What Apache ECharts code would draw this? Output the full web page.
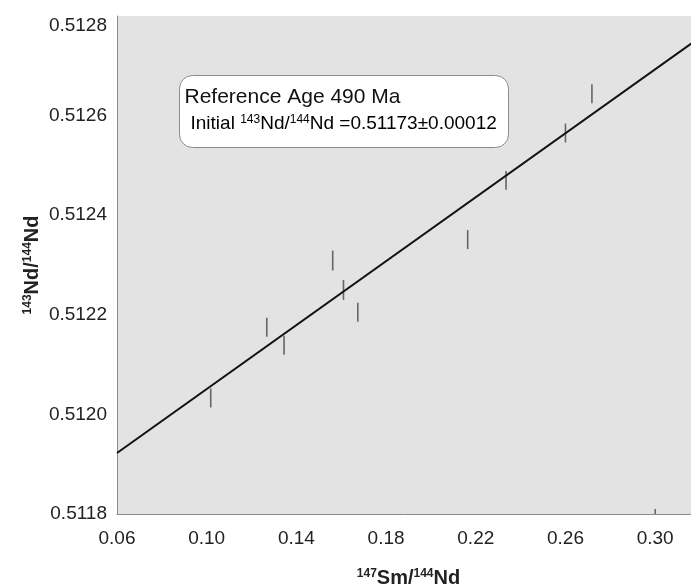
<!DOCTYPE html>
<html>
<head>
<meta charset="utf-8">
<script src="https://cdn.jsdelivr.net/npm/echarts@6/dist/echarts.min.js"></script>
<style>
  html, body { margin: 0; padding: 0; background: #ffffff; }
  #chart { width: 691px; height: 586px; }
</style>
</head>
<body>
<div id="chart"></div>
<script>
// 147Sm/144Nd ratios of the analysed samples
var smNd = [0.1018, 0.1268, 0.1345, 0.1562, 0.1610, 0.1674, 0.2164, 0.2335, 0.2600, 0.2718, 0.3000];
// measured 143Nd/144Nd ratios
var ndNd = [0.512033, 0.512175, 0.512139, 0.512309, 0.512250, 0.512205, 0.512351, 0.512470, 0.512565, 0.512644, 0.511791];
// 1-sigma analytical uncertainty on 143Nd/144Nd
var ndErr = [0.000019, 0.000019, 0.000019, 0.000020, 0.000020, 0.000019, 0.000019, 0.000019, 0.000019, 0.000019, 0.000019];

// reference isochron
var refAgeMa = 490;
var initialRatio = 0.51173;
var initialErr = 0.00012;
var lambdaSm = 6.54e-12; // 147Sm decay constant, 1/yr

var xTickLabels = ['0.06', '0.10', '0.14', '0.18', '0.22', '0.26', '0.30'];
var yTickLabels = ['0.5118', '0.5120', '0.5122', '0.5124', '0.5126', '0.5128'];

var xMin = 0.06, xMax = 0.32;
var yMin = 0.5118, yMax = 0.5128;

var slope = Math.exp(lambdaSm * refAgeMa * 1e6) - 1;
var isoLine = [xMin, xMax].map(function (x) { return [x, initialRatio + slope * x]; });

var points = smNd.map(function (x, i) { return [x, ndNd[i], ndErr[i]]; });

var font = '"Liberation Sans", Arial, sans-serif';
var supStyle = { fontSize: 12, fontWeight: 'bold', fontFamily: font, color: '#222', padding: [0, 0, 8, 0] };
var nameMain = { fontSize: 20, fontWeight: 'bold', fontFamily: font, color: '#222' };

var chart = echarts.init(document.getElementById('chart'), null, { renderer: 'canvas' });

chart.setOption({
  animation: false,
  backgroundColor: '#ffffff',
  grid: {
    left: 117, top: 16, width: 583, height: 498,
    outerBoundsMode: 'none',
    containLabel: false,
    show: true, backgroundColor: '#e3e3e3', borderWidth: 0
  },
  xAxis: {
    type: 'value',
    min: xMin, max: xMax, interval: 0.02,
    axisLine: { show: true, onZero: false, lineStyle: { color: '#8a8a8a', width: 1 } },
    axisTick: { show: false },
    splitLine: { show: false },
    axisLabel: {
      margin: 15, fontSize: 19, fontFamily: font, color: '#222',
      formatter: function (v) {
        var s = v.toFixed(2);
        return xTickLabels.indexOf(s) >= 0 ? s : '';
      }
    },
    name: '{sup|147}{m|Sm/}{sup|144}{m|Nd}',
    nameLocation: 'middle',
    nameGap: 54,
    nameMoveOverlap: false,
    nameTextStyle: { rich: { sup: supStyle, m: nameMain } }
  },
  yAxis: {
    type: 'value',
    min: yMin, max: yMax, interval: 0.0002,
    axisLine: { show: true, onZero: false, lineStyle: { color: '#8a8a8a', width: 1 } },
    axisTick: { show: false },
    splitLine: { show: false },
    axisLabel: {
      margin: 10, fontSize: 19, fontFamily: font, color: '#222',
      verticalAlignMinLabel: 'middle',
      verticalAlignMaxLabel: 'top',
      formatter: function (v) {
        var s = v.toFixed(4);
        return yTickLabels.indexOf(s) >= 0 ? s : '';
      }
    },
    name: '{sup|143}{m|Nd/}{sup|144}{m|Nd}',
    nameLocation: 'middle',
    nameRotate: 90,
    nameGap: 75,
    nameMoveOverlap: false,
    nameTextStyle: { rich: { sup: supStyle, m: nameMain } }
  },
  series: [
    {
      type: 'line',
      data: isoLine,
      showSymbol: false,
      clip: true,
      lineStyle: { color: '#111', width: 2 },
      z: 3
    },
    {
      type: 'custom',
      data: points,
      clip: true,
      renderItem: function (params, api) {
        var x = api.value(0), y = api.value(1), e = api.value(2);
        var p1 = api.coord([x, y + e]);
        var p2 = api.coord([x, y - e]);
        return {
          type: 'line',
          shape: { x1: p1[0], y1: p1[1], x2: p2[0], y2: p2[1] },
          style: { stroke: '#666', lineWidth: 1.6 }
        };
      },
      z: 2
    }
  ],
  graphic: [
    {
      type: 'group',
      left: 179, top: 75, z: 10,
      children: [
        {
          type: 'rect',
          shape: { x: 0, y: 0, width: 329, height: 72, r: 13 },
          style: { fill: '#ffffff', stroke: '#8c8c8c', lineWidth: 1 }
        },
        {
          type: 'text',
          x: 5, y: 11,
          style: {
            text: 'Reference Age ' + refAgeMa + ' Ma',
            font: '21px ' + font, fill: '#111'
          }
        },
        {
          type: 'text',
          x: 11, y: 38,
          style: {
            text: '{m|Initial }{s|143}{m|Nd/}{s|144}{m|Nd =' + initialRatio.toFixed(5) + '±' + initialErr.toFixed(5) + '}',
            rich: {
              m: { fontSize: 19, fontFamily: font, color: '#111' },
              s: { fontSize: 12, fontFamily: font, color: '#111', padding: [0, 0, 8, 0] }
            }
          }
        }
      ]
    }
  ]
});
</script>
</body>
</html>
